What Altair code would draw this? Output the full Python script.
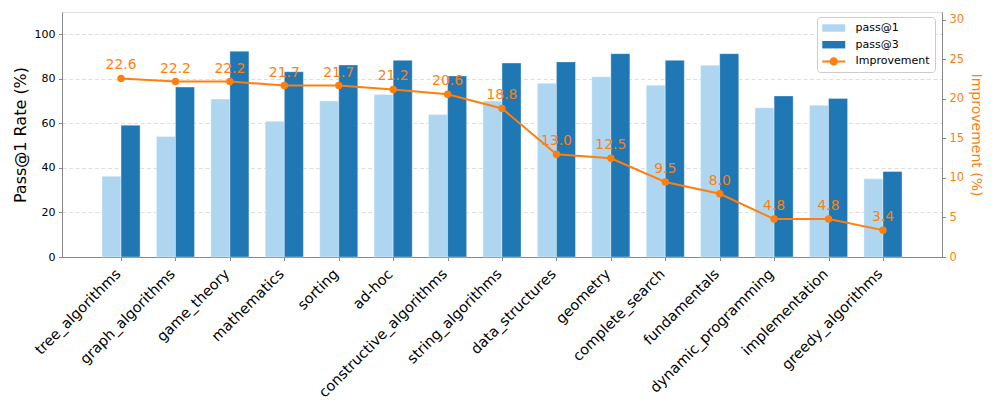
import json
import altair as alt
import pandas as pd

categories = ["tree_algorithms", "graph_algorithms", "game_theory", "mathematics", "sorting",
              "ad-hoc", "constructive_algorithms", "string_algorithms", "data_structures",
              "geometry", "complete_search", "fundamentals", "dynamic_programming",
              "implementation", "greedy_algorithms"]
pass1 = [36.3, 54.1, 70.9, 61.0, 70.0, 73.0, 64.0, 70.0, 78.0, 80.9, 77.1, 86.1, 67.0, 68.1, 35.1]
pass3 = [59.2, 76.3, 92.4, 83.2, 86.2, 88.3, 81.3, 87.1, 87.6, 91.3, 88.3, 91.3, 72.3, 71.2, 38.4]
improvement = [22.6, 22.2, 22.2, 21.7, 21.7, 21.2, 20.6, 18.8, 13.0, 12.5, 9.5, 8.0, 4.8, 4.8, 3.4]
series_names = ["pass@1", "pass@3", "Improvement"]
series_colors = ["#AED6F1", "#1F77B4", "#FF7F0E"]

ORANGE = "#FF7F0E"
FONT = "DejaVu Sans"

rows = []
for i, c in enumerate(categories):
    rows.append({"category": c, "idx": i, "series": "pass@1", "value": pass1[i]})
    rows.append({"category": c, "idx": i, "series": "pass@3", "value": pass3[i]})
bar_df = pd.DataFrame(rows)
line_df = pd.DataFrame({"category": categories, "idx": list(range(len(categories))),
                        "improvement": improvement})
legend_df = pd.DataFrame({"series": series_names})

rect_path = "M-1,-0.65H3V0.65H-1Z"
line_path = "M-1,-0.17H3V0.17H-1Z M1.73,0A0.73,0.73 0 1 1 0.27,0A0.73,0.73 0 1 1 1.73,0"

xscale = alt.Scale(domain=[-1.085, 15.085], nice=False, zero=False, padding=0)
label_expr = json.dumps(categories) + "[datum.value]"
x_axis = alt.Axis(values=list(range(len(categories))), labelExpr=label_expr,
                  labelAngle=-45, labelAlign="right", labelBaseline="alphabetic",
                  labelPadding=14, labelFontSize=14.5, tickSize=3.5, title=None,
                  grid=False, labelOverlap=False, labelFlush=False, labelBound=False)

legend = alt.Legend(title=None, orient="none", legendX=755, legendY=5, symbolSize=132,
                    labelOffset=21.5, rowPadding=5.7, padding=5, strokeColor="#cccccc",
                    fillColor="white", cornerRadius=3, labelFontSize=11, labelFont=FONT,
                    symbolStrokeWidth=0, symbolOpacity=1, labelColor="black")
color_scale = alt.Scale(domain=series_names, range=series_colors)

bars = alt.Chart(bar_df).transform_calculate(
    x0="datum.idx + (datum.series == 'pass@1' ? -0.35 : 0)",
    x1="datum.idx + (datum.series == 'pass@1' ? 0 : 0.35)",
).mark_bar(stroke="white", strokeWidth=0.6, strokeOpacity=0.6, orient="vertical").encode(
    x=alt.X("x0:Q", scale=xscale, axis=x_axis),
    x2="x1:Q",
    y=alt.Y("value:Q", scale=alt.Scale(domain=[0, 110], nice=False),
            axis=alt.Axis(values=[0, 20, 40, 60, 80, 100], title="Pass@1 Rate (%)",
                          titleFontSize=16, titleFontWeight="normal", labelFontSize=11,
                          tickSize=3.5, labelPadding=3.5, titlePadding=6, grid=True,
                          gridDash=[4, 2.5], gridColor="#d6d6d6", gridWidth=0.8)),
    y2=alt.datum(0),
    color=alt.Color("series:N", scale=color_scale, legend=legend),
)

dummy = alt.Chart(legend_df).mark_point(filled=True, opacity=0).encode(
    color=alt.Color("series:N", scale=color_scale, legend=legend),
    shape=alt.Shape("series:N", scale=alt.Scale(domain=series_names,
                                                range=[rect_path, rect_path, line_path]),
                    legend=legend),
)

left = alt.layer(bars, dummy)

ybase = alt.Y("improvement:Q", scale=alt.Scale(domain=[0, 31], nice=False),
              axis=alt.Axis(orient="right", values=[0, 5, 10, 15, 20, 25, 30],
                            title="Improvement (%)", titleColor=ORANGE, labelColor=ORANGE,
                            titleFontSize=14, titleFontWeight="normal", labelFontSize=11.5,
                            tickSize=3.5, labelPadding=3.5, titlePadding=5, grid=False))
xl = alt.X("idx:Q", scale=xscale, axis=x_axis)

lbase = alt.Chart(line_df)
line = lbase.mark_line(color=ORANGE, strokeWidth=2).encode(x=xl, y=ybase)
pts = lbase.mark_circle(size=55, color=ORANGE, opacity=1).encode(x=xl, y=ybase)
txt = lbase.mark_text(dy=-13, fontSize=13.9, color=ORANGE, font=FONT).encode(
    x=xl, y=ybase, text=alt.Text("improvement:Q", format=".1f"))

right = alt.layer(line, pts, txt)

chart = alt.layer(left, right).resolve_scale(y="independent").properties(
    width=880, height=245,
    autosize=alt.AutoSizeParams(type="none"),
    padding={"left": 54, "top": 4, "right": 47, "bottom": 150},
).configure_view(stroke="black", strokeWidth=1).configure_axis(
    domain=False, tickColor="black", labelColor="black", labelFont=FONT, titleFont=FONT,
    titleColor="black"
).configure(font=FONT)

chart.save("out.html", embed_options={"renderer": "svg", "actions": False})
